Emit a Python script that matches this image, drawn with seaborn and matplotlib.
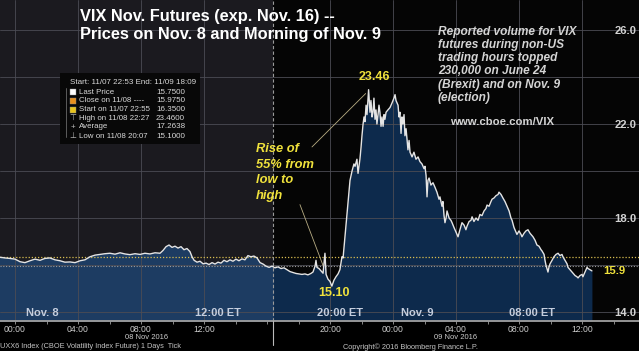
import numpy as np
import pandas as pd
import seaborn as sns
import matplotlib.pyplot as plt
from matplotlib.patches import Rectangle
from matplotlib.lines import Line2D

# VIX Nov. futures ticks, hours after 00:00 on 08 Nov 2016
hours = [
    -1.14, -0.95, -0.63, -0.32, 0.00, 0.32, 0.63, 0.95, 1.27, 1.59,
    1.90, 2.22, 2.54, 2.86, 3.17, 3.49, 3.81, 4.13, 4.44, 4.76,
    5.08, 5.40, 5.71, 6.03, 6.35, 6.67, 6.98, 7.30, 7.62, 7.94,
    8.25, 8.57, 8.89, 9.21, 9.40, 9.59, 9.78, 9.97, 10.16, 10.35,
    10.54, 10.73, 10.92, 11.11, 11.24, 11.37, 11.56, 11.75, 11.94, 12.13,
    12.32, 12.51, 12.70, 12.89, 13.08, 13.27, 13.46, 13.65, 13.84, 14.03,
    14.22, 14.41, 14.60, 14.79, 14.98, 15.17, 15.37, 15.56, 15.75, 15.94,
    16.13, 16.32, 16.51, 16.70, 16.89, 17.08, 17.27, 17.46, 17.65, 17.84,
    18.03, 18.22, 18.41, 18.60, 18.79, 18.92, 19.05, 19.11, 19.17, 19.30,
    19.43, 19.56, 19.68, 19.75, 19.87, 20.00, 20.12, 20.25, 20.38, 20.51,
    20.63, 20.76, 20.83, 20.95, 21.08, 21.21, 21.27, 21.40, 21.52, 21.59,
    21.71, 21.78, 21.90, 21.97, 22.03, 22.10, 22.16, 22.22, 22.29, 22.35,
    22.45, 22.54, 22.60, 22.67, 22.73, 22.79, 22.86, 22.92, 22.98, 23.05,
    23.11, 23.17, 23.24, 23.30, 23.37, 23.43, 23.49, 23.56, 23.68, 23.81,
    23.94, 24.06, 24.13, 24.19, 24.32, 24.38, 24.44, 24.51, 24.57, 24.63,
    24.70, 24.76, 24.83, 24.95, 25.02, 25.08, 25.21, 25.33, 25.46, 25.59,
    25.71, 25.84, 25.97, 26.03, 26.10, 26.16, 26.22, 26.29, 26.41, 26.54,
    26.67, 26.79, 26.92, 26.98, 27.11, 27.17, 27.24, 27.30, 27.37, 27.43,
    27.56, 27.68, 27.75, 27.87, 28.00, 28.13, 28.25, 28.38, 28.51, 28.63,
    28.70, 28.83, 28.95, 29.02, 29.14, 29.27, 29.40, 29.52, 29.65, 29.78,
    29.90, 29.97, 30.10, 30.22, 30.29, 30.41, 30.54, 30.67, 30.73, 30.86,
    30.98, 31.11, 31.24, 31.37, 31.49, 31.56, 31.68, 31.81, 31.87, 32.00,
    32.13, 32.19, 32.32, 32.44, 32.57, 32.70, 32.83, 32.89, 33.02, 33.14,
    33.27, 33.40, 33.46, 33.59, 33.65, 33.71, 33.84, 33.90, 33.97, 34.10,
    34.22, 34.35, 34.48, 34.60, 34.73, 34.79, 34.92, 35.05, 35.11, 35.24,
    35.37, 35.43, 35.56, 35.68, 35.75, 35.87, 36.00, 36.06, 36.19, 36.32,
    36.38, 36.51, 36.63,
]
price = [
    16.35, 16.33, 16.30, 16.28, 16.25, 16.14, 16.10, 16.18, 16.25, 16.20,
    16.28, 16.30, 16.22, 16.18, 16.12, 16.13, 16.10, 16.18, 16.22, 16.35,
    16.42, 16.45, 16.48, 16.50, 16.46, 16.52, 16.47, 16.44, 16.48, 16.45,
    16.50, 16.47, 16.52, 16.50, 16.62, 16.78, 16.85, 16.75, 16.80, 16.72,
    16.78, 16.65, 16.70, 16.57, 16.35, 16.20, 16.12, 16.16, 16.05, 16.08,
    16.02, 16.10, 16.04, 16.12, 16.08, 16.20, 16.14, 16.22, 16.16, 16.25,
    16.18, 16.26, 16.22, 16.40, 16.35, 16.38, 16.30, 16.10, 16.04, 15.95,
    15.90, 15.95, 15.88, 15.92, 15.85, 15.88, 15.80, 15.72, 15.68, 15.64,
    15.62, 15.60, 15.62, 15.58, 15.64, 15.70, 15.95, 16.20, 15.90, 15.85,
    15.75, 15.65, 16.50, 15.60, 15.40, 15.30, 15.10, 15.35, 15.50, 15.62,
    15.80, 16.35, 16.30, 17.20, 18.20, 19.20, 19.60, 20.00, 20.30, 20.20,
    20.50, 19.90, 20.50, 21.00, 21.50, 22.00, 22.30, 22.10, 22.80, 22.40,
    23.46, 22.50, 23.00, 22.30, 22.50, 23.10, 22.20, 22.60, 22.00, 22.40,
    22.80, 22.50, 21.90, 22.30, 21.90, 22.40, 22.20, 22.50, 22.60, 22.70,
    22.90, 23.10, 23.25, 23.00, 22.80, 22.30, 22.50, 21.60, 22.30, 22.00,
    22.40, 21.50, 21.80, 20.90, 21.30, 20.80, 20.60, 20.80, 20.50, 20.60,
    20.40, 20.30, 20.10, 20.20, 19.80, 18.90, 19.60, 19.70, 19.40, 19.50,
    19.30, 19.10, 18.80, 18.90, 18.50, 18.70, 18.10, 17.80, 18.00, 18.30,
    18.00, 17.90, 17.80, 17.60, 17.40, 17.20, 17.50, 17.80, 17.70, 17.50,
    17.65, 17.85, 17.90, 18.05, 17.85, 18.00, 17.90, 18.15, 18.10, 18.30,
    18.40, 18.55, 18.50, 18.70, 18.80, 18.85, 18.95, 19.00, 19.10, 19.00,
    18.85, 18.70, 18.50, 18.30, 18.00, 17.90, 17.60, 17.40, 17.30, 17.45,
    17.30, 17.20, 17.35, 17.45, 17.50, 17.35, 17.25, 17.20, 17.05, 16.85,
    16.80, 16.65, 16.60, 16.45, 16.20, 16.00, 15.70, 15.90, 16.05, 16.20,
    16.35, 16.45, 16.50, 16.40, 16.45, 16.35, 16.20, 16.05, 15.90, 15.80,
    15.70, 15.65, 15.55, 15.50, 15.45, 15.55, 15.60, 15.50, 15.70, 15.90,
    15.85, 15.80, 15.75,
]
assert len(hours) == len(price)

start_price = 16.35
close_price = 15.975
session_close = 16.4   # 16:15 close, dashed line / shading change

ytick_vals = [14, 18, 22, 26]
ytick_labels = ['14.0', '18.0', '22.0', '26.0']
ygrid_minor = [16, 20, 24]
xtick_vals = [0, 4, 8, 12, 20, 24, 28, 32, 36]
xtick_labels = ['00:00', '04:00', '08:00', '12:00', '20:00', '00:00', '04:00', '08:00', '12:00']
xtick_minor = [2, 6, 10, 14, 16, 18, 22, 26, 30, 34, 38]
date_labels = ['08 Nov 2016', '09 Nov 2016']
session_labels = ['Nov. 8', '12:00 ET', '20:00 ET', 'Nov. 9', '08:00 ET']

legend_header = 'Start: 11/07 22:53 End: 11/09 18:09'
legend_labels = ['Last Price', 'Close on 11/08 ----', 'Start on 11/07 22:55',
                 'High on 11/08 22:27', 'Average', 'Low on 11/08 20:07']
legend_values = ['15.7500', '15.9750', '16.3500', '23.4600', '17.2638', '15.1000']

note_lines = ['Reported volume for VIX', 'futures during non-US', 'trading hours topped',
              '230,000 on June 24', '(Brexit) and on Nov. 9', '(election)']
rise_lines = ['Rise of', '55% from', 'low to', 'high']
last_label = '15.9'

df = pd.DataFrame({'hour': hours, 'price': price})

sns.set_style('dark')
plt.rcParams['font.family'] = ['Liberation Sans', 'DejaVu Sans']

W, H = 639, 351
YELLOW = '#f0e23c'
fig = plt.figure(figsize=(W / 100, H / 100), dpi=100, facecolor='black')
ax = fig.add_axes([0, 30 / H, 1, 321 / H])


def px(x, y):
    # pixel position (from top-left) -> figure fraction
    return x / W, 1 - y / H


xmin, xmax = -15 / 15.75, (W - 15) / 15.75
ymin, ymax = 14 - 9 / 23.5, 14 + 312 / 23.5

ax.set_facecolor('#050505')
ax.axvspan(xmin, session_close, color='#1b1a1f', lw=0, zorder=0.2)

# area under the price line, two shades either side of the close
ax.fill_between(df['hour'], df['price'], ymin, color='#0d2a4c', lw=0, zorder=1)
left_fill = ax.fill_between(df['hour'], df['price'], ymin, color='#1d3c62', lw=0, zorder=1.1)
left_fill.set_clip_path(Rectangle((xmin, ymin), session_close - xmin, ymax - ymin,
                                  transform=ax.transData))

ax.axhline(start_price, color='#d9bd50', ls=(0, (1, 1.5)), lw=0.9, zorder=1.8)
ax.axhline(close_price, color='#9c9c9c', ls=(0, (1, 1.5)), lw=0.8, zorder=1.8)
ax.axvline(session_close, color='#9a9a9a', ls=(0, (3, 2)), lw=0.8, zorder=1.8)

sns.lineplot(data=df, x='hour', y='price', ax=ax, color='#e4e4e4', lw=1.0, zorder=3)

ax.set_xlim(xmin, xmax)
ax.set_ylim(ymin, ymax)
ax.set_xlabel('')
ax.set_ylabel('')

ax.set_axisbelow('line')
ax.set_xticks(xtick_vals, labels=xtick_labels)
ax.set_xticks(xtick_minor, minor=True)
ax.set_yticks(ytick_vals, labels=ytick_labels)
ax.set_yticks(ygrid_minor, minor=True)
ax.grid(False)
ax.xaxis.grid(True, which='major', color='#4c4c54', lw=0.6)
ax.yaxis.grid(True, which='both', color='#4c4c54', lw=0.6)

for side in ['top', 'left', 'right']:
    ax.spines[side].set_visible(False)
ax.spines['bottom'].set_color('#a0a0a0')
ax.spines['bottom'].set_linewidth(1.3)

ax.tick_params(axis='x', which='both', bottom=True, direction='out', length=2,
               width=0.6, color='#a0a0a0', labelcolor='#cccccc', labelsize=6.2, pad=1)
ax.yaxis.tick_right()
ax.tick_params(axis='y', which='both', length=0, right=False, left=False,
               labelright=True, labelleft=False, pad=-17.5, labelsize=8.1,
               labelcolor='#d2d2d2')
for lbl in ax.get_yticklabels():
    lbl.set_fontweight('bold')

# title
fig.text(*px(80, 16), 'VIX Nov. Futures (exp. Nov. 16) --', color='white',
         fontsize=11.8, fontweight='bold', va='center', ha='left')
fig.text(*px(80, 35), 'Prices on Nov. 8 and Morning of Nov. 9', color='white',
         fontsize=11.8, fontweight='bold', va='center', ha='left')

# Bloomberg legend box
fig.add_artist(Rectangle(px(60, 144), 140 / W, 71 / H, transform=fig.transFigure,
                         facecolor='#080808', edgecolor='none', zorder=4))
fig.add_artist(Line2D([66 / W, 66 / W], [1 - 88 / H, 1 - 137 / H], transform=fig.transFigure,
                      color='#6a6a6a', lw=0.6, zorder=5))
fig.text(*px(70, 83), legend_header, color='#d8d8d8', fontsize=5.8, va='center', zorder=6)
legend_rows = [92, 101, 110, 118.5, 127, 136]
swatches = ['#ffffff', '#e8901c', '#e8c41c']
symbols = ['\u22a4', '+', '\u22a5']
for i, (lab, val) in enumerate(zip(legend_labels, legend_values)):
    y = legend_rows[i]
    if i < 3:
        fig.add_artist(Rectangle(px(70, y + 3), 6 / W, 6 / H, transform=fig.transFigure,
                                 facecolor=swatches[i], edgecolor='#888888', lw=0.3, zorder=6))
    else:
        fig.text(*px(73, y), symbols[i - 3], color='#bbbbbb', fontsize=5.8,
                 ha='center', va='center', zorder=6)
    fig.text(*px(79, y), lab, color='#d8d8d8', fontsize=5.7, va='center', zorder=6)
    fig.text(*px(156, y), val, color='#d8d8d8', fontsize=5.8, va='center', zorder=6)

# volume note
for i, line in enumerate(note_lines):
    fig.text(*px(438, 31.5 + 13.3 * i), line, color='#d4d4d4', fontsize=8.6,
             fontweight='bold', fontstyle='italic', va='center', zorder=6)
fig.text(*px(450, 122), 'www.cboe.com/VIX', color='#d4d4d4', fontsize=8.2,
         fontweight='bold', va='center', zorder=6)

# high / low callouts
peak = df.loc[df['price'].idxmax()]
low = df.loc[df['price'].idxmin()]
ax.text(peak['hour'] + 0.35, peak['price'] + 0.55, f"{peak['price']:.2f}", color=YELLOW,
        fontsize=9, fontweight='bold', ha='center', va='center', zorder=6)
ax.text(low['hour'] + 0.15, low['price'] - 0.3, f"{low['price']:.2f}", color=YELLOW,
        fontsize=9, fontweight='bold', ha='center', va='center', zorder=6)
for i, line in enumerate(rise_lines):
    fig.text(*px(256, 149 + 15.7 * i), line, color=YELLOW, fontsize=9.3,
             fontweight='bold', fontstyle='italic', va='center', zorder=6)
ax.annotate('', xy=(peak['hour'] - 0.06, peak['price'] - 0.08), xytext=(18.73, 20.94),
            arrowprops=dict(arrowstyle='-', color='#b8ad84', lw=0.6), zorder=6)
ax.annotate('', xy=(19.62, 15.87), xytext=(18.03, 18.68),
            arrowprops=dict(arrowstyle='-', color='#b8ad84', lw=0.6), zorder=6)

# last price tag
ax.annotate(last_label, xy=(df['hour'].iloc[-1], df['price'].iloc[-1]), xytext=(8, 0),
            textcoords='offset points', color=YELLOW, fontsize=8.1, fontweight='bold',
            ha='left', va='center', zorder=6)

# session labels inside the plot
for lab, x in zip(session_labels, [42, 218, 340, 417, 532]):
    fig.text(*px(x, 313), lab, color='#c5cede', fontsize=8, fontweight='bold',
             ha='center', va='center', zorder=6)

# below-axis labels
for lab, x in zip(date_labels, [147, 456]):
    fig.text(*px(x, 337.5), lab, color='#cccccc', fontsize=5.5, ha='center', va='center')
fig.add_artist(Line2D([273 / W, 273 / W], [1 - 321 / H, 1 - 345 / H], transform=fig.transFigure,
                      color='#bbbbbb', lw=0.8))
fig.text(*px(0.5, 347), 'UXX6 Index (CBOE Volatility Index Future) 1 Days  Tick',
         color='#c4c4c4', fontsize=5.3, ha='left', va='center')
fig.text(*px(343, 347), 'Copyright\u00a9 2016 Bloomberg Finance L.P.',
         color='#c4c4c4', fontsize=5.3, ha='left', va='center')

fig.savefig('out.png', dpi=100, facecolor=fig.get_facecolor())
